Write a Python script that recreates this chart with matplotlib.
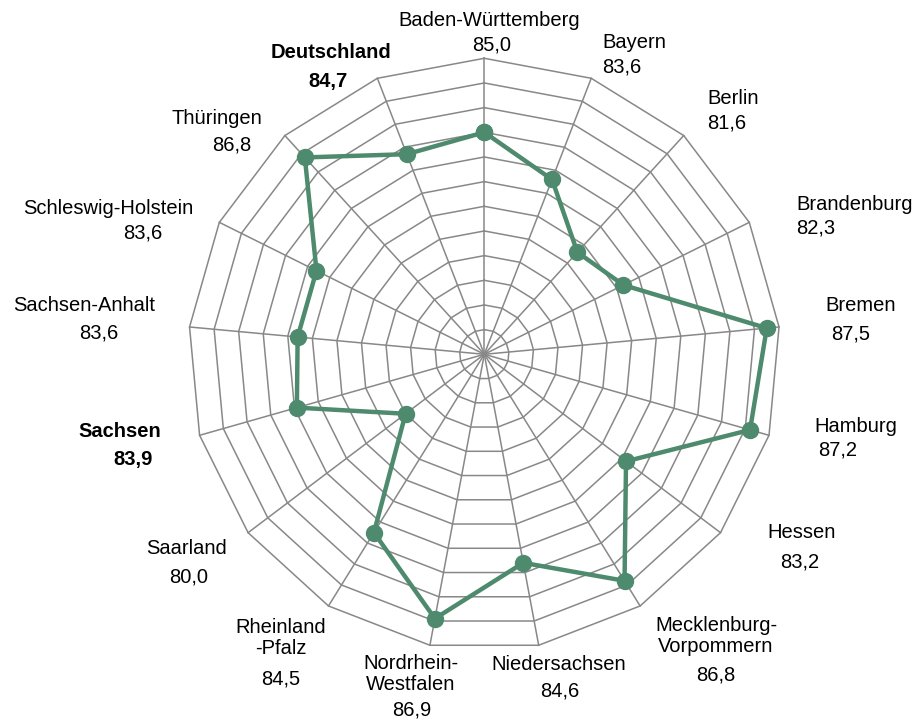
import numpy as np
import matplotlib
matplotlib.use("Agg")
import matplotlib.pyplot as plt

plt.rcParams['font.family'] = ['Liberation Sans', 'DejaVu Sans']

categories = ["Baden-Württemberg", "Bayern", "Berlin", "Brandenburg", "Bremen",
              "Hamburg", "Hessen", "Mecklenburg-\nVorpommern", "Niedersachsen",
              "Nordrhein-\nWestfalen", "Rheinland\n-Pfalz", "Saarland", "Sachsen",
              "Sachsen-Anhalt", "Schleswig-Holstein", "Thüringen", "Deutschland"]
values = [85.0, 83.6, 81.6, 82.3, 87.5, 87.2, 83.2, 86.8, 84.6, 86.9, 84.5,
          80.0, 83.9, 83.6, 83.6, 86.8, 84.7]
bold_labels = ["Sachsen", "Deutschland"]
r_min, r_max, r_step = 76, 88, 1

# label layout (pixel centers): name (x, y), value (x, y)
label_pos = [
    ((489, 20), (492, 45)),
    ((634, 43), (622, 67)),
    ((733, 99), (727, 123)),
    ((855, 204), (816, 228)),
    ((861, 306), (851, 334)),
    ((856, 427), (838, 450)),
    ((802, 532), (800, 562)),
    ((716, 636), (716, 675)),
    ((559, 665), (560, 691)),
    ((411, 674), (412, 710)),
    ((281, 638), (281, 679)),
    ((187, 549), (189, 577)),
    ((120, 432), (133, 459)),
    ((84, 306), (99, 333)),
    ((108, 208), (143, 233)),
    ((217, 118), (232, 145)),
    ((331, 52), (328, 82)),
]

W, H = 915, 722
fig = plt.figure(figsize=(W / 100, H / 100), dpi=100)
cx, cy, R = 484.3, 354.3, 296
ax = fig.add_axes([(cx - R) / W, (H - cy - R) / H, 2 * R / W, 2 * R / H],
                  projection='polar')
ax.set_theta_zero_location('N')
ax.set_theta_direction(-1)
ax.set_ylim(r_min, r_max)
ax.set_axis_off()

n = len(categories)
theta = np.arange(n) * 2 * np.pi / n
theta_c = np.append(theta, theta[0])
grid_col = '#888888'

for r in np.arange(r_min + r_step, r_max + 0.001, r_step):
    ax.plot(theta_c, [r] * (n + 1), color=grid_col, lw=1.1, clip_on=False, zorder=1)
for t in theta:
    ax.plot([t, t], [r_min, r_max], color=grid_col, lw=1.1, clip_on=False, zorder=1)

vals_c = values + [values[0]]
ax.plot(theta_c, vals_c, color='#4E8A6D', lw=3.2, marker='o', markersize=11.5,
        clip_on=False, zorder=3)

for cat, v, (npos, vpos) in zip(categories, values, label_pos):
    fw = 'bold' if cat in bold_labels else 'normal'
    fig.text(npos[0] / W, 1 - npos[1] / H, cat, ha='center', va='center',
             fontsize=14.5, fontweight=fw, linespacing=1.15, color='#000000')
    fig.text(vpos[0] / W, 1 - vpos[1] / H, f"{v:.1f}".replace('.', ','),
             ha='center', va='center', fontsize=14.5, fontweight=fw, color='#000000')

fig.savefig('out.png', dpi=100, facecolor='white')
